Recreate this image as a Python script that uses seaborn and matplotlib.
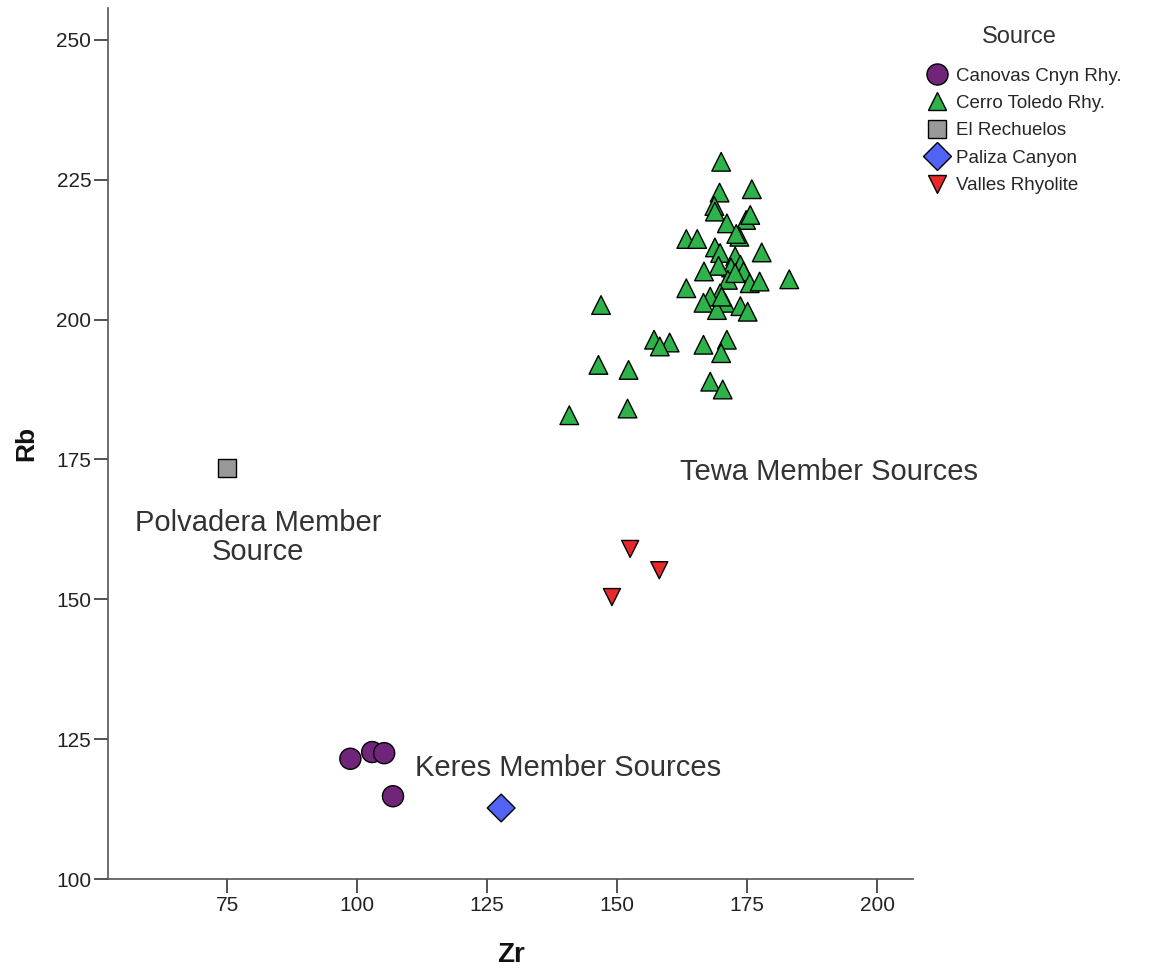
import numpy as np
import pandas as pd
import matplotlib
matplotlib.use("Agg")
import matplotlib.pyplot as plt
import seaborn as sns

# Werte
canovas_zr = [98.7, 102.9, 105.2, 106.9]
canovas_rb = [121.5, 122.7, 122.5, 114.8]

toledo_zr = [170.0, 169.7, 175.9, 168.7, 168.8, 171.1, 174.8, 175.6, 173.5, 172.9,
             163.3, 165.4, 168.8, 169.8, 177.8, 172.7, 173.7, 171.9, 169.5, 166.7,
             174.3, 175.5, 177.4, 183.1, 171.3, 163.3, 169.8, 167.9, 166.6, 170.8,
             169.2, 173.7, 175.1, 146.9, 157.1, 160.1, 158.2, 166.6, 171.1, 170.0,
             146.4, 152.2, 167.9, 170.3, 152.0, 140.8, 172.7, 170.1]
toledo_rb = [228.2, 222.7, 223.3, 220.3, 219.3, 217.2, 217.8, 218.7, 214.8, 215.3,
             214.4, 214.4, 212.9, 211.9, 212.0, 211.3, 209.8, 209.3, 209.6, 208.6,
             208.6, 206.5, 206.8, 207.2, 207.1, 205.6, 204.7, 204.1, 203.0, 203.0,
             201.7, 202.4, 201.4, 202.6, 196.4, 195.9, 195.2, 195.5, 196.4, 194.0,
             191.9, 191.0, 188.9, 187.5, 184.1, 182.9, 208.3, 204.1]

rechuelos_zr = [75.0]
rechuelos_rb = [173.5]

paliza_zr = [127.7]
paliza_rb = [112.7]

valles_zr = [152.5, 158.1, 149.0]
valles_rb = [159.0, 155.2, 150.4]

sources = ["Canovas Cnyn Rhy.", "Cerro Toledo Rhy.", "El Rechuelos",
           "Paliza Canyon", "Valles Rhyolite"]

df = pd.concat([
    pd.DataFrame({"Zr": canovas_zr, "Rb": canovas_rb, "Source": sources[0]}),
    pd.DataFrame({"Zr": toledo_zr, "Rb": toledo_rb, "Source": sources[1]}),
    pd.DataFrame({"Zr": rechuelos_zr, "Rb": rechuelos_rb, "Source": sources[2]}),
    pd.DataFrame({"Zr": paliza_zr, "Rb": paliza_rb, "Source": sources[3]}),
    pd.DataFrame({"Zr": valles_zr, "Rb": valles_rb, "Source": sources[4]}),
], ignore_index=True)

palette = dict(zip(sources, ["#70257A", "#2DB34A", "#999999", "#5063F5", "#E8282B"]))
markers = dict(zip(sources, ["o", "^", "s", "D", "v"]))
sizes = dict(zip(sources, [230, 180, 180, 200, 150]))

sns.set_style("ticks")
plt.rcParams["font.family"] = ["Liberation Sans", "DejaVu Sans"]

fig = plt.figure(figsize=(11.54, 9.71), dpi=100)
ax = fig.add_axes([0.0936, 0.0947, 0.6976, 0.8971])

sns.scatterplot(data=df, x="Zr", y="Rb", hue="Source", style="Source", size="Source",
                palette=palette, markers=markers, sizes=sizes, hue_order=sources,
                style_order=sources, size_order=sources,
                edgecolor="black", linewidth=1.0, alpha=1, ax=ax)

ax.set_xlim(52.1, 206.9)
ax.set_ylim(100, 255.7)
ax.set_xticks([75, 100, 125, 150, 175, 200])
ax.set_yticks([100, 125, 150, 175, 200, 225, 250])
ax.tick_params(axis="both", labelsize=15, length=10, width=1.2, pad=2,
               color="#333333", labelcolor="#222222")
for s in ["left", "bottom"]:
    ax.spines[s].set_color("#555555")
    ax.spines[s].set_linewidth(1.2)
sns.despine(ax=ax)
ax.set_xlabel("Zr", fontsize=20, fontweight="bold", labelpad=20, color="#111111")
ax.set_ylabel("Rb", fontsize=19, fontweight="bold", labelpad=13, color="#111111")

txt_kw = dict(fontsize=21, color="#333333", ha="center", va="center", clip_on=False)
ax.text(81.0, 161.1, "Polvadera Member\nSource", linespacing=1.05, **txt_kw)
ax.text(190.8, 172.8, "Tewa Member Sources", **txt_kw)
ax.text(140.6, 119.8, "Keres Member Sources", **txt_kw)

sns.move_legend(ax, "upper left", bbox_to_anchor=(0.789, 0.981),
                bbox_transform=fig.transFigure, frameon=False, title="Source",
                fontsize=13.5, title_fontsize=17, handletextpad=0.0,
                labelspacing=0.55, borderaxespad=0)
leg = ax.get_legend()
leg.get_title().set_color("#333333")
leg._legend_box.sep = 14

fig.savefig("out.png", dpi=100)
